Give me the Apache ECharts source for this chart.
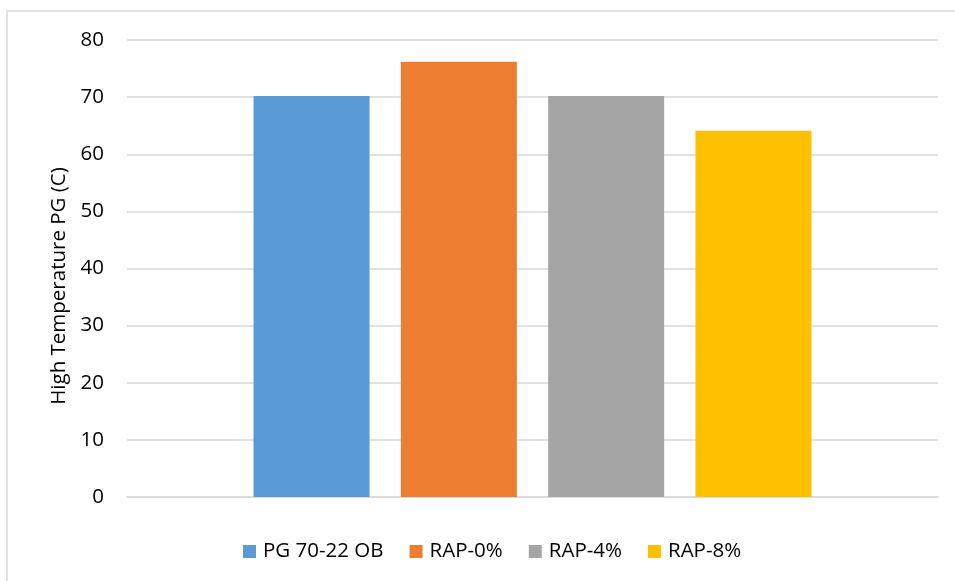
<!DOCTYPE html>
<html>
<head>
<meta charset="utf-8">
<script src="https://cdn.jsdelivr.net/npm/echarts@6/dist/echarts.min.js"></script>
<style>
  html, body { margin: 0; padding: 0; background: #ffffff; }
  #chart { width: 955px; height: 581px; }
</style>
</head>
<body>
<div id="chart"></div>
<script>
// Binder blends and their high-temperature performance grade
const seriesNames = ['PG 70-22 OB', 'RAP-0%', 'RAP-4%', 'RAP-8%'];
const pgValues = [70.2, 76.2, 70.2, 64.1];
const barColors = ['#5B9BD5', '#ED7D31', '#A5A5A5', '#FFC000'];
const categories = [''];
const yTicks = { min: 0, max: 80, interval: 10 };
const yTitle = 'High Temperature PG (C)';

const FONT = '"Open Sans", "Noto Sans", sans-serif';

const chart = echarts.init(document.getElementById('chart'), null, { renderer: 'canvas' });

const series = seriesNames.map((name, i) => ({
  name: name,
  type: 'bar',
  data: [pgValues[i]],
  barWidth: 116,
  barGap: '27%',
  itemStyle: { color: barColors[i] },
  emphasis: { disabled: true }
}));

chart.setOption({
  animation: false,
  backgroundColor: '#ffffff',
  grid: { left: 127, right: 17, top: 40, bottom: 84, containLabel: false },
  graphic: [
    {
      type: 'rect',
      shape: { x: 7, y: 11, width: 1100, height: 1000 },
      style: { fill: 'none', stroke: '#d9d9d9', lineWidth: 1.5 },
      silent: true,
      z: -1
    },
    {
      type: 'text',
      x: 59,
      y: 286,
      rotation: Math.PI / 2,
      style: {
        text: yTitle,
        font: '20.5px ' + FONT,
        fill: '#000000',
        align: 'center',
        verticalAlign: 'middle'
      },
      silent: true
    }
  ],
  legend: {
    data: seriesNames,
    left: 238,
    top: 536,
    itemWidth: 13,
    itemHeight: 13,
    itemGap: 26,
    icon: 'rect',
    textStyle: { fontFamily: FONT, fontSize: 20.5, color: '#000000', padding: [0, 0, 0, 2] }
  },
  xAxis: {
    type: 'category',
    data: categories,
    axisLine: { show: true, lineStyle: { color: '#d9d9d9', width: 1.5 } },
    axisTick: { show: false },
    axisLabel: { show: false },
    splitLine: { show: false }
  },
  yAxis: {
    type: 'value',
    min: yTicks.min,
    max: yTicks.max,
    interval: yTicks.interval,
    axisLine: { show: false },
    axisTick: { show: false },
    axisLabel: { fontFamily: FONT, fontSize: 20.5, color: '#000000', margin: 23 },
    splitLine: { lineStyle: { color: '#d9d9d9', width: 1.5 } }
  },
  series: series
});
</script>
</body>
</html>
